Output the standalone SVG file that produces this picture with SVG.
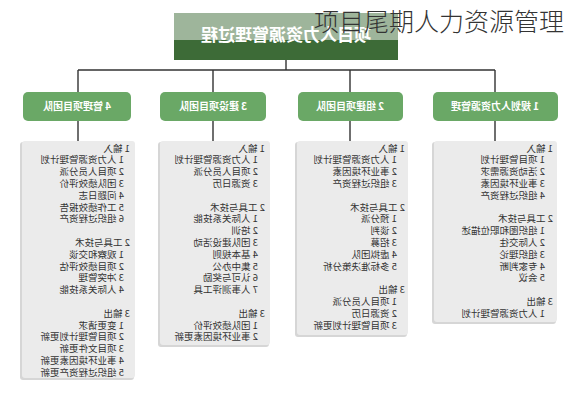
<svg xmlns="http://www.w3.org/2000/svg" width="572" height="400" viewBox="0 0 572 400">
<style>
.conn{stroke:#333;stroke-width:1.4;fill:none}
.node rect{fill:#6aa866}
.node text{fill:#fff;font-family:"Noto Sans CJK SC","Liberation Sans",sans-serif;font-size:10px;font-weight:bold;text-anchor:middle}
.panel{fill:#ebebeb}
.shadow{fill:#d6d6d6}
.pt{fill:#333;font-family:"Noto Sans CJK SC","Liberation Sans",sans-serif;font-size:9.5px}
</style>
<rect width="572" height="400" fill="#fff"/>
<g transform="matrix(-1 0 0 1 572 0)">
<g id="connectors">
<path class="conn" d="M286 60V70M77 70H494M77 70V92M222 70V92M359 70V92M494 70V92M77 121V141M222 121V141M359 121V141M494 121V141"/>
</g>
<g id="root">
<rect x="174" y="13" width="224" height="47" fill="#3d6b37"/>
<rect x="174" y="13" width="224" height="27" fill="#fff" opacity="0.5"/>
<text x="286" y="41" fill="#fff" font-family="Noto Sans CJK SC, Liberation Sans, sans-serif" font-size="17" font-weight="bold" text-anchor="middle">项目人力资源管理过程</text>
</g>
<g id="node1" class="node"><rect x="14" y="92" width="125" height="29" rx="5"/><text x="77" y="110">1 规划人力资源管理</text></g>
<g id="node2" class="node"><rect x="169" y="92" width="105" height="29" rx="5"/><text x="222" y="110">2 组建项目团队</text></g>
<g id="node3" class="node"><rect x="306" y="92" width="106" height="29" rx="5"/><text x="359" y="110">3 建设项目团队</text></g>
<g id="node4" class="node"><rect x="441" y="92" width="108" height="29" rx="5"/><text x="495" y="110">4 管理项目团队</text></g>

<g id="panel1">
<rect class="shadow" x="16" y="142" width="124" height="182" rx="3"/>
<rect class="panel" x="15" y="141" width="123" height="181" rx="3"/>
<text class="pt" x="19" y="151.5">1 输入</text>
<text class="pt" x="27" y="163.3">1 项目管理计划</text>
<text class="pt" x="27" y="175.1">2 活动资源需求</text>
<text class="pt" x="27" y="186.9">3 事业环境因素</text>
<text class="pt" x="27" y="198.7">4 组织过程资产</text>
<text class="pt" x="19" y="222.3">2 工具与技术</text>
<text class="pt" x="27" y="234.1">1 组织图和职位描述</text>
<text class="pt" x="27" y="245.9">2 人际交往</text>
<text class="pt" x="27" y="257.7">3 组织理论</text>
<text class="pt" x="27" y="269.5">4 专家判断</text>
<text class="pt" x="27" y="281.3">5 会议</text>
<text class="pt" x="19" y="304.9">3 输出</text>
<text class="pt" x="27" y="316.7">1 人力资源管理计划</text>
</g>

<g id="panel2">
<rect class="shadow" x="165" y="142" width="112" height="195" rx="3"/>
<rect class="panel" x="164" y="141" width="111" height="194" rx="3"/>
<text class="pt" x="167" y="151.5">1 输入</text>
<text class="pt" x="175" y="163.3">1 人力资源管理计划</text>
<text class="pt" x="175" y="175.1">2 事业环境因素</text>
<text class="pt" x="175" y="186.9">3 组织过程资产</text>
<text class="pt" x="167" y="210.5">2 工具与技术</text>
<text class="pt" x="175" y="222.3">1 预分派</text>
<text class="pt" x="175" y="234.1">2 谈判</text>
<text class="pt" x="175" y="245.9">3 招募</text>
<text class="pt" x="175" y="257.7">4 虚拟团队</text>
<text class="pt" x="175" y="269.5">5 多标准决策分析</text>
<text class="pt" x="167" y="293.1">3 输出</text>
<text class="pt" x="175" y="304.9">1 项目人员分派</text>
<text class="pt" x="175" y="316.7">2 资源日历</text>
<text class="pt" x="175" y="328.5">3 项目管理计划更新</text>
</g>

<g id="panel3">
<rect class="shadow" x="303" y="142" width="111" height="205" rx="3"/>
<rect class="panel" x="302" y="141" width="110" height="204" rx="3"/>
<text class="pt" x="307" y="151.5">1 输入</text>
<text class="pt" x="314" y="163.3">1 人力资源管理计划</text>
<text class="pt" x="314" y="175.1">2 项目人员分派</text>
<text class="pt" x="314" y="186.9">3 资源日历</text>
<text class="pt" x="307" y="210.5">2 工具与技术</text>
<text class="pt" x="314" y="222.3">1 人际关系技能</text>
<text class="pt" x="314" y="234.1">2 培训</text>
<text class="pt" x="314" y="245.9">3 团队建设活动</text>
<text class="pt" x="314" y="257.7">4 基本规则</text>
<text class="pt" x="314" y="269.5">5 集中办公</text>
<text class="pt" x="314" y="281.3">6 认可与奖励</text>
<text class="pt" x="314" y="293.1">7 人事测评工具</text>
<text class="pt" x="307" y="316.7">3 输出</text>
<text class="pt" x="314" y="328.5">1 团队绩效评价</text>
<text class="pt" x="314" y="340.3">2 事业环境因素更新</text>
</g>

<g id="panel4">
<rect class="shadow" x="438" y="142" width="114" height="238" rx="3"/>
<rect class="panel" x="437" y="141" width="113" height="237" rx="3"/>
<text class="pt" x="442" y="151.5">1 输入</text>
<text class="pt" x="448" y="163.3">1 人力资源管理计划</text>
<text class="pt" x="448" y="175.1">2 项目人员分派</text>
<text class="pt" x="448" y="186.9">3 团队绩效评价</text>
<text class="pt" x="448" y="198.7">4 问题日志</text>
<text class="pt" x="448" y="210.5">5 工作绩效报告</text>
<text class="pt" x="448" y="222.3">6 组织过程资产</text>
<text class="pt" x="442" y="245.9">2 工具与技术</text>
<text class="pt" x="448" y="257.7">1 观察和交谈</text>
<text class="pt" x="448" y="269.5">2 项目绩效评估</text>
<text class="pt" x="448" y="281.3">3 冲突管理</text>
<text class="pt" x="448" y="293.1">4 人际关系技能</text>
<text class="pt" x="442" y="316.7">3 输出</text>
<text class="pt" x="448" y="328.5">1 变更请求</text>
<text class="pt" x="448" y="340.3">2 项目管理计划更新</text>
<text class="pt" x="448" y="352.1">3 项目文件更新</text>
<text class="pt" x="448" y="363.9">4 事业环境因素更新</text>
<text class="pt" x="448" y="375.7">5 组织过程资产更新</text>
</g>
</g>
<text id="title" x="314" y="31" fill="#333" font-family="Noto Sans CJK SC, Liberation Sans, sans-serif" font-size="25" font-weight="300">项目尾期人力资源管理</text>
</svg>
